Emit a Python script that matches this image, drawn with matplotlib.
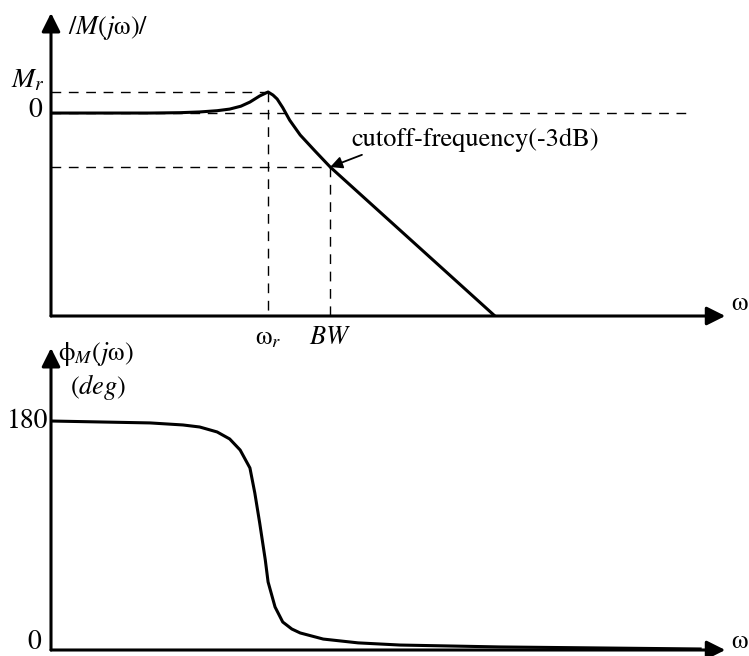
import matplotlib
matplotlib.use("Agg")
import matplotlib.pyplot as plt

plt.rcParams['font.family'] = ['STIXGeneral', 'DejaVu Serif']
plt.rcParams['mathtext.fontset'] = 'stix'

# ---- magnitude curve (arbitrary w units, dB-like units) ----
omega_mag = [0.0, 1.42, 1.85, 2.13, 2.38, 2.56, 2.72, 2.85, 2.99, 3.11, 3.18, 3.24, 3.32, 3.42, 3.57, 3.78, 4.0, 6.36]
mag_db = [0.0, 0.0, 0.02, 0.06, 0.13, 0.22, 0.38, 0.61, 0.95, 1.17, 1.0, 0.78, 0.3, -0.4, -1.22, -2.1, -3.0, -11.28]

w_r = 3.11
M_r = 1.17
bw = 4.0
cutoff_db = -3.0

# ---- phase curve ----
omega_phase = [0.0, 1.42, 1.89, 2.13, 2.38, 2.56, 2.71, 2.85, 2.92, 2.99, 3.07, 3.11,
               3.21, 3.32, 3.45, 3.57, 3.90, 4.4, 5.0, 6.43, 7.87, 9.30]
phase_deg = [180.0, 178.5, 176.9, 175.3, 171.4, 165.9, 157.2, 143.1, 123.4, 99.8, 70.8, 53.5,
             33.8, 22.0, 16.5, 13.4, 8.6, 5.6, 3.9, 2.4, 1.6, 0.8]

fs = 19
fn = 20
dash = (0, (7, 5.5))

fig = plt.figure(figsize=(7.49, 6.56), dpi=100)

# -------------------------------
# top: |M(jw)|
# -------------------------------
ax1 = fig.add_axes([51 / 749, 340 / 656, 698 / 749, 303 / 656])
ax1.set_xlim(0, 10)
ax1.set_ylim(-11.28, 5.56)
ax1.axis('off')
ylo1, yhi1 = ax1.get_ylim()

# dashed guides
ax1.plot([0, w_r], [M_r, M_r], color='k', lw=1.0, ls=dash)
ax1.plot([w_r, w_r], [M_r, ylo1], color='k', lw=1.0, ls=dash)
ax1.plot([0, 9.15], [0, 0], color='k', lw=1.0, ls=dash)
ax1.plot([0, bw], [cutoff_db, cutoff_db], color='k', lw=1.0, ls=dash)
ax1.plot([bw, bw], [cutoff_db, ylo1], color='k', lw=1.0, ls=dash)

ax1.plot(omega_mag, mag_db, color='k', lw=2.2, solid_joinstyle='round')

# axes arrows
arr = dict(arrowstyle='-|>', color='k', lw=2.2, mutation_scale=28, shrinkA=0, shrinkB=0)
ax1.annotate('', xy=(9.66, ylo1), xytext=(0, ylo1), arrowprops=arr, annotation_clip=False)
ax1.annotate('', xy=(0, yhi1), xytext=(0, ylo1), arrowprops=arr, annotation_clip=False)

ax1.text(0.24, 4.72, r'$/M(j\mathrm{ω})/$', fontsize=fs, ha='left', va='center')
ax1.text(-0.09, 1.8, r'$M_r$', fontsize=fn, ha='right', va='center')
ax1.text(-0.12, 0.15, '0', fontsize=fn, ha='right', va='center')
ax1.text(w_r, -12.5, r'$\mathrm{ω}_r$', fontsize=fs, ha='center', va='center')
ax1.text(bw, -12.5, r'$BW$', fontsize=fs, ha='center', va='center')
ax1.text(9.74, -10.6, r'$\mathrm{ω}$', fontsize=fs, ha='left', va='center')

ax1.annotate('cutoff-frequency(-3dB)', xy=(bw, cutoff_db), xytext=(4.31, -1.5),
             fontsize=fs, ha='left', va='center',
             arrowprops=dict(arrowstyle='-|>', color='k', lw=1.3, mutation_scale=18,
                             shrinkA=0, shrinkB=0, relpos=(0.07, 0.0)))

# -------------------------------
# bottom: phase
# -------------------------------
ax2 = fig.add_axes([51 / 749, 6 / 656, 698 / 749, 302 / 656])
ax2.set_xlim(0, 10)
ax2.set_ylim(0, 237.4)
ax2.axis('off')
ylo2, yhi2 = ax2.get_ylim()

ax2.plot(omega_phase, phase_deg, color='k', lw=2.2, solid_joinstyle='round')

ax2.annotate('', xy=(9.66, ylo2), xytext=(0, ylo2), arrowprops=arr, annotation_clip=False)
ax2.annotate('', xy=(0, yhi2), xytext=(0, ylo2), arrowprops=arr, annotation_clip=False)

ax2.text(0.1, 233, r'$\mathrm{ϕ}_M(j\mathrm{ω})$', fontsize=fs, ha='left', va='center')
ax2.text(0.27, 207, r'$(deg)$', fontsize=fs, ha='left', va='center')
ax2.text(-0.04, 180, '180', fontsize=fn, ha='right', va='center')
ax2.text(-0.14, 6.3, '0', fontsize=fn, ha='right', va='center')
ax2.text(9.74, 6.3, r'$\mathrm{ω}$', fontsize=fs, ha='left', va='center')

fig.savefig('out.png', dpi=100)
